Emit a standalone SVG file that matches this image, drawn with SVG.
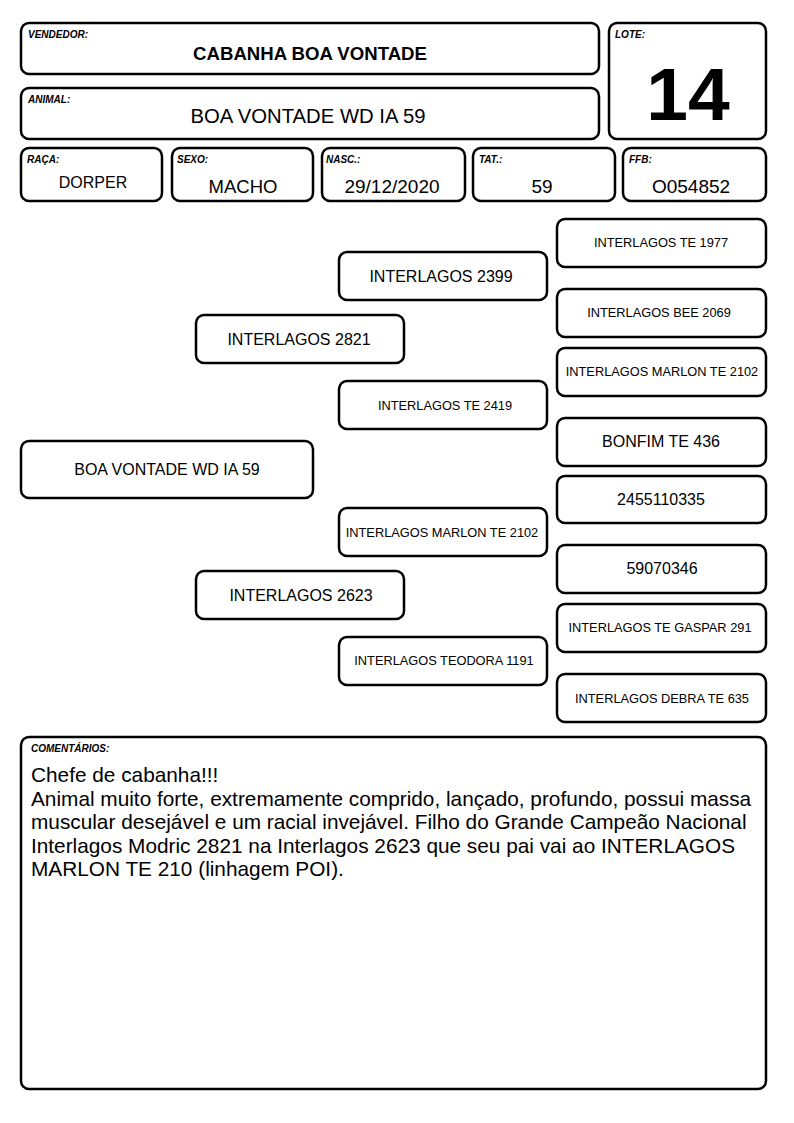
<svg xmlns="http://www.w3.org/2000/svg" width="794" height="1123" viewBox="0 0 794 1123">
<style>
.b{fill:#fff;stroke:#000;stroke-width:2.5}
.lbl{font-family:"Liberation Sans",Arial,sans-serif;font-size:10px;font-weight:bold;font-style:italic;fill:#000}
.t{font-family:"Liberation Sans",Arial,sans-serif;fill:#000;text-anchor:middle}
.s16{font-size:16px}
.s13{font-size:12.8px}
.s19{font-size:19px}
.c{font-family:"Liberation Sans",Arial,sans-serif;font-size:20.8px;fill:#000}
</style>
<rect width="794" height="1123" fill="#fff"/>
<g id="vendedor">
<rect class="b" x="21" y="23" width="578" height="51" rx="8"/>
<text class="lbl" x="28" y="38">VENDEDOR:</text>
<text class="t" x="310" y="60" font-size="18.6" font-weight="bold">CABANHA BOA VONTADE</text>
</g>
<g id="animal">
<rect class="b" x="21" y="88" width="578" height="51" rx="8"/>
<text class="lbl" x="28" y="103">ANIMAL:</text>
<text class="t" x="308" y="123" font-size="20.3">BOA VONTADE WD IA 59</text>
</g>
<g id="lote">
<rect class="b" x="609" y="23" width="157" height="116" rx="8"/>
<text class="lbl" x="615" y="38">LOTE:</text>
<text class="t" x="688" y="120" font-size="75" font-weight="bold">14</text>
</g>
<g id="raca">
<rect class="b" x="21" y="148" width="141" height="53" rx="8"/>
<text class="lbl" x="27" y="163">RAÇA:</text>
<text class="t s16" x="93" y="188">DORPER</text>
</g>
<g id="sexo">
<rect class="b" x="172" y="148" width="141" height="53" rx="8"/>
<text class="lbl" x="177" y="163">SEXO:</text>
<text class="t" x="243" y="193" font-size="18.5">MACHO</text>
</g>
<g id="nasc">
<rect class="b" x="322" y="148" width="143" height="53" rx="8"/>
<text class="lbl" x="326" y="163">NASC.:</text>
<text class="t s19" x="392" y="193">29/12/2020</text>
</g>
<g id="tat">
<rect class="b" x="473" y="148" width="142" height="53" rx="8"/>
<text class="lbl" x="479" y="163">TAT.:</text>
<text class="t s19" x="542" y="193">59</text>
</g>
<g id="ffb">
<rect class="b" x="623" y="148" width="143" height="53" rx="8"/>
<text class="lbl" x="629" y="163">FFB:</text>
<text class="t s19" x="691" y="193">O054852</text>
</g>
<g id="connectors"></g>
<g id="p0">
<rect class="b" x="21" y="441" width="292" height="57" rx="8"/>
<text class="t s16" x="167" y="475">BOA VONTADE WD IA 59</text>
</g>
<g id="p1a">
<rect class="b" x="196" y="315" width="208" height="48" rx="8"/>
<text class="t s16" x="299" y="345">INTERLAGOS 2821</text>
</g>
<g id="p1b">
<rect class="b" x="196" y="571" width="208" height="48" rx="8"/>
<text class="t s16" x="301" y="601">INTERLAGOS 2623</text>
</g>
<g id="p2a">
<rect class="b" x="339" y="252" width="208" height="48" rx="8"/>
<text class="t s16" x="441" y="282">INTERLAGOS 2399</text>
</g>
<g id="p2b">
<rect class="b" x="339" y="381" width="208" height="48" rx="8"/>
<text class="t s13" x="445" y="410">INTERLAGOS TE 2419</text>
</g>
<g id="p2c">
<rect class="b" x="339" y="508" width="208" height="48" rx="8"/>
<text class="t s13" x="442" y="537">INTERLAGOS MARLON TE 2102</text>
</g>
<g id="p2d">
<rect class="b" x="339" y="637" width="208" height="48" rx="8"/>
<text class="t s13" x="444" y="665">INTERLAGOS TEODORA 1191</text>
</g>
<g id="p3a">
<rect class="b" x="557" y="219" width="209" height="48" rx="8"/>
<text class="t s13" x="661" y="247">INTERLAGOS TE 1977</text>
</g>
<g id="p3b">
<rect class="b" x="557" y="289" width="209" height="48" rx="8"/>
<text class="t s13" x="659" y="317">INTERLAGOS BEE 2069</text>
</g>
<g id="p3c">
<rect class="b" x="557" y="348" width="209" height="48" rx="8"/>
<text class="t s13" x="662" y="376">INTERLAGOS MARLON TE 2102</text>
</g>
<g id="p3d">
<rect class="b" x="557" y="418" width="209" height="48" rx="8"/>
<text class="t s16" x="661" y="447">BONFIM TE 436</text>
</g>
<g id="p3e">
<rect class="b" x="557" y="476" width="209" height="47" rx="8"/>
<text class="t s16" x="661" y="505">2455110335</text>
</g>
<g id="p3f">
<rect class="b" x="557" y="545" width="209" height="48" rx="8"/>
<text class="t s16" x="662" y="574">59070346</text>
</g>
<g id="p3g">
<rect class="b" x="557" y="604" width="209" height="48" rx="8"/>
<text class="t s13" x="660" y="632">INTERLAGOS TE GASPAR 291</text>
</g>
<g id="p3h">
<rect class="b" x="557" y="674" width="209" height="48" rx="8"/>
<text class="t s13" x="662" y="703">INTERLAGOS DEBRA TE 635</text>
</g>
<g id="comentarios">
<rect class="b" x="21" y="737" width="745" height="352" rx="8"/>
<text class="lbl" x="31" y="752" font-size="9.5">COMENTÁRIOS:</text>
<text class="c" x="31" y="782">Chefe de cabanha!!!</text>
<text class="c" x="31" y="806">Animal muito forte, extremamente comprido, lançado, profundo, possui massa</text>
<text class="c" x="31" y="829">muscular desejável e um racial invejável. Filho do Grande Campeão Nacional</text>
<text class="c" x="31" y="853">Interlagos Modric 2821 na Interlagos 2623 que seu pai vai ao INTERLAGOS</text>
<text class="c" x="31" y="876">MARLON TE 210 (linhagem POI).</text>
</g>
</svg>
